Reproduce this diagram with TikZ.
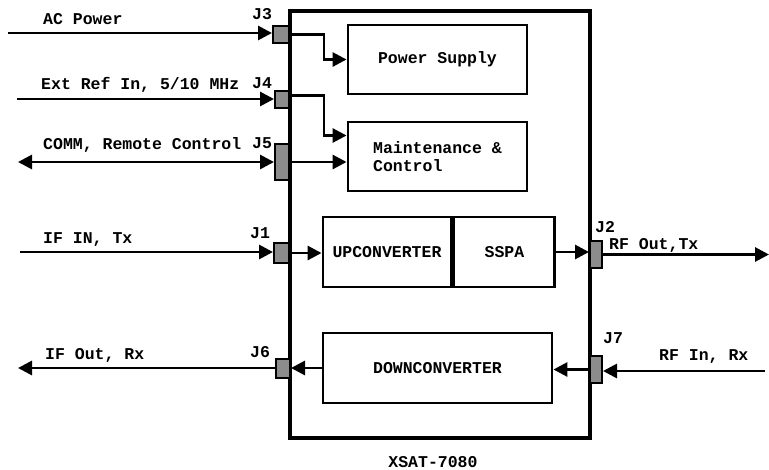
\documentclass[tikz,border=0pt]{standalone}
\usepackage{fontspec}
\setmonofont{Liberation Mono}
\usetikzlibrary{arrows.meta,positioning}
\definecolor{jackgray}{RGB}{140,140,140}

\begin{document}
\begin{tikzpicture}[x=1pt,y=-1pt,
    font=\fontsize{16.5}{18}\selectfont\ttfamily\bfseries,
    conn/.style={line width=2.9pt,-{Triangle[length=14pt,width=14pt]}},
    both/.style={line width=2.9pt,{Triangle[length=14pt,width=14pt]}-{Triangle[length=14pt,width=14pt]}},
    blk/.style={draw,line width=2.9pt,inner sep=0pt},
    jack/.style={draw,fill=jackgray,line width=2pt,inner sep=0pt},
    lbl/.style={anchor=base west,inner sep=0pt}]
    \useasboundingbox (0,0) rectangle (769,469);

    % enclosure
    \node[blk,line width=3.2pt,minimum width=300pt,minimum height=427pt] (xsat) at (440,224.5) {};
    \node[anchor=base,inner sep=0pt] (xsatl) at (433,467) {XSAT-7080};

    % modules
    \node[blk,minimum width=179pt,minimum height=69pt] (ps) at (437.5,59.5) {Power Supply};
    \node[blk,minimum width=179pt,minimum height=69pt,align=left] (mc) at (437.5,156.5) {Maintenance \&\\Control};
    \node[blk,minimum width=128pt,minimum height=70pt] (up) at (387,252) {UPCONVERTER};
    \node[blk,minimum width=101pt,minimum height=70pt,right=0pt of up] (sspa) {SSPA};
    \node[blk,minimum width=229pt,minimum height=70pt] (dc) at (437.5,368) {DOWNCONVERTER};

    % connectors
    \node[jack,minimum width=16pt,minimum height=17pt] (j3) at (281,34.5) {};
    \node[jack,minimum width=14pt,minimum height=17pt] (j4) at (282,99.5) {};
    \node[jack,minimum width=14pt,minimum height=36pt] (j5) at (282,162) {};
    \node[jack,minimum width=15pt,minimum height=20pt] (j1) at (281.5,253) {};
    \node[jack,minimum width=14pt,minimum height=19pt] (j6) at (283,368) {};
    \node[jack,minimum width=12pt,minimum height=27pt] (j2) at (596,254.5) {};
    \node[jack,minimum width=12pt,minimum height=27pt] (j7) at (596,369.5) {};

    \node[lbl] (j3l) at (252,19) {J3};
    \node[lbl] (j4l) at (252,88) {J4};
    \node[lbl] (j5l) at (252,148) {J5};
    \node[lbl] (j1l) at (250,238) {J1};
    \node[lbl] (j6l) at (250,357) {J6};
    \node[lbl] (j2l) at (595,232) {J2};
    \node[lbl] (j7l) at (603,343) {J7};

    % outside world
    \coordinate (acin) at (8,33);
    \coordinate (refin) at (17,99);
    \coordinate (comm) at (18,162);
    \coordinate (ifin) at (20,252);
    \coordinate (ifout) at (18,368);
    \coordinate (rfout) at (769,253);
    \coordinate (rfin) at (765,371);

    \draw[conn] (acin) -- (acin -| j3.west);
    \draw[conn] (refin) -- (refin -| j4.west);
    \draw[both] (comm) -- (comm -| j5.west);
    \draw[conn] (ifin) -- (ifin -| j1.west);
    \draw[conn] (j6.west) -- (j6.west -| ifout);
    \draw[conn] (j2.east) -- (j2.east -| rfout);
    \draw[conn] (rfin) -- (rfin -| j7.east);

    \node[lbl] (acl) at (43,24) {AC Power};
    \node[lbl] (refl) at (41,89) {Ext Ref In, 5/10 MHz};
    \node[lbl] (comml) at (43,149) {COMM, Remote Control};
    \node[lbl] (ifinl) at (43,243) {IF IN, Tx};
    \node[lbl] (ifoutl) at (45,359) {IF Out, Rx};
    \node[lbl] (rfoutl) at (609,249) {RF Out,Tx};
    \node[lbl] (rfinl) at (659,360) {RF In, Rx};

    % inside
    \draw[conn] (j3.east) -- ++(34,0) |- (ps.west);
    \draw[conn] ([yshift=4pt]j4.east) -- ++(34,0) |- ([yshift=21pt]mc.west);
    \draw[conn] (j5.east) -- (j5.east -| mc.west);
    \draw[conn] (j1.east) -- (j1.east -| up.west);
    \draw[conn] (sspa.east) -- (sspa.east -| j2.west);
    \draw[conn] (j7.west) -- (j7.west -| dc.east);
    \draw[conn] (dc.west) -- (dc.west -| j6.east);
\end{tikzpicture}
\end{document}
